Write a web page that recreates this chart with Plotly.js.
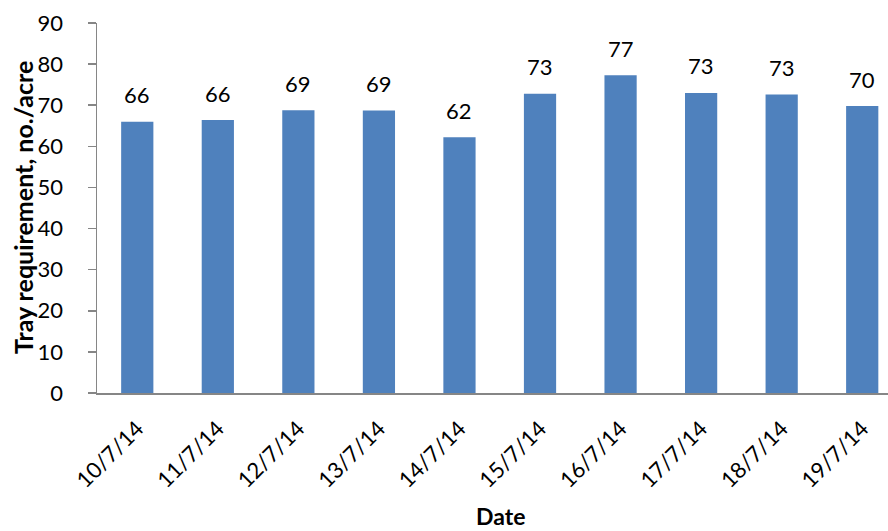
<!DOCTYPE html>
<html>
<head>
<meta charset="utf-8">
<script src="https://cdn.plot.ly/plotly-3.0.1.min.js"></script>
<style>html,body{margin:0;padding:0;background:#fff;}#chart{width:888px;height:531px;}</style>
</head>
<body>
<div id="chart"></div>
<script>
const dates = ["10/7/14","11/7/14","12/7/14","13/7/14","14/7/14","15/7/14","16/7/14","17/7/14","18/7/14","19/7/14"];
const trays = [66.0, 66.4, 68.8, 68.7, 62.2, 72.8, 77.3, 73.0, 72.6, 69.8];
const labels = ["66","66","69","69","62","73","77","73","73","70"];
const yTicks = [0,10,20,30,40,50,60,70,80,90];

const FONT = "Lato, 'Open Sans', sans-serif";
const idx = dates.map((d,i)=>i);
const trace = {
  type: "bar",
  x: idx,
  y: trays,
  width: 0.4,
  marker: {color: "#4F81BD", line: {color: "#4F81BD", width: 0}},
  hoverinfo: "skip"
};
const labelAnns = idx.map(i => ({
  x: i, y: trays[i], xref: "x", yref: "y",
  text: labels[i], showarrow: false,
  xanchor: "center", yanchor: "middle", yshift: 27,
  font: {family: FONT, size: 22, color: "#000"}
}));
const layout = {
  width: 888, height: 531,
  margin: {l: 97, r: 0, t: 23, b: 138},
  paper_bgcolor: "#fff", plot_bgcolor: "#fff",
  showlegend: false,
  font: {family: FONT, size: 22, color: "#000"},
  xaxis: {
    range: [-0.5, 9.32],
    tickmode: "array", tickvals: idx, ticktext: dates,
    tickangle: -45, ticks: "", showgrid: false, zeroline: false,
    showline: true, linecolor: "#868686", linewidth: 2,
    tickfont: {family: FONT, size: 22, color: "#000"},
    ticklabelstandoff: 12,
    fixedrange: true
  },
  yaxis: {
    range: [0, 90], tickmode: "array", tickvals: yTicks,
    ticks: "outside", ticklen: 8, tickcolor: "#868686", tickwidth: 1.5,
    showgrid: false, zeroline: false,
    showline: true, linecolor: "#868686", linewidth: 1.5,
    tickfont: {family: FONT, size: 22, color: "#000"},
    ticklabelstandoff: 20,
    fixedrange: true
  },
  annotations: labelAnns.concat([
    {
      text: "<b>Date</b>", xref: "paper", yref: "paper",
      x: (500-97)/791, y: 0, yshift: -123, xanchor: "center", yanchor: "middle",
      borderpad: 0,
      showarrow: false, font: {family: FONT, size: 23, color: "#000"}
    },
    {
      text: "<b>Tray requirement, no./acre</b>", xref: "paper", yref: "paper",
      x: 0, y: 0.5, xshift: -74, xanchor: "center", yanchor: "middle", textangle: -90,
      showarrow: false, font: {family: FONT, size: 25, color: "#000"}
    }
  ])
};
Plotly.newPlot("chart", [trace], layout, {displayModeBar: false, staticPlot: true});
</script>
</body>
</html>
